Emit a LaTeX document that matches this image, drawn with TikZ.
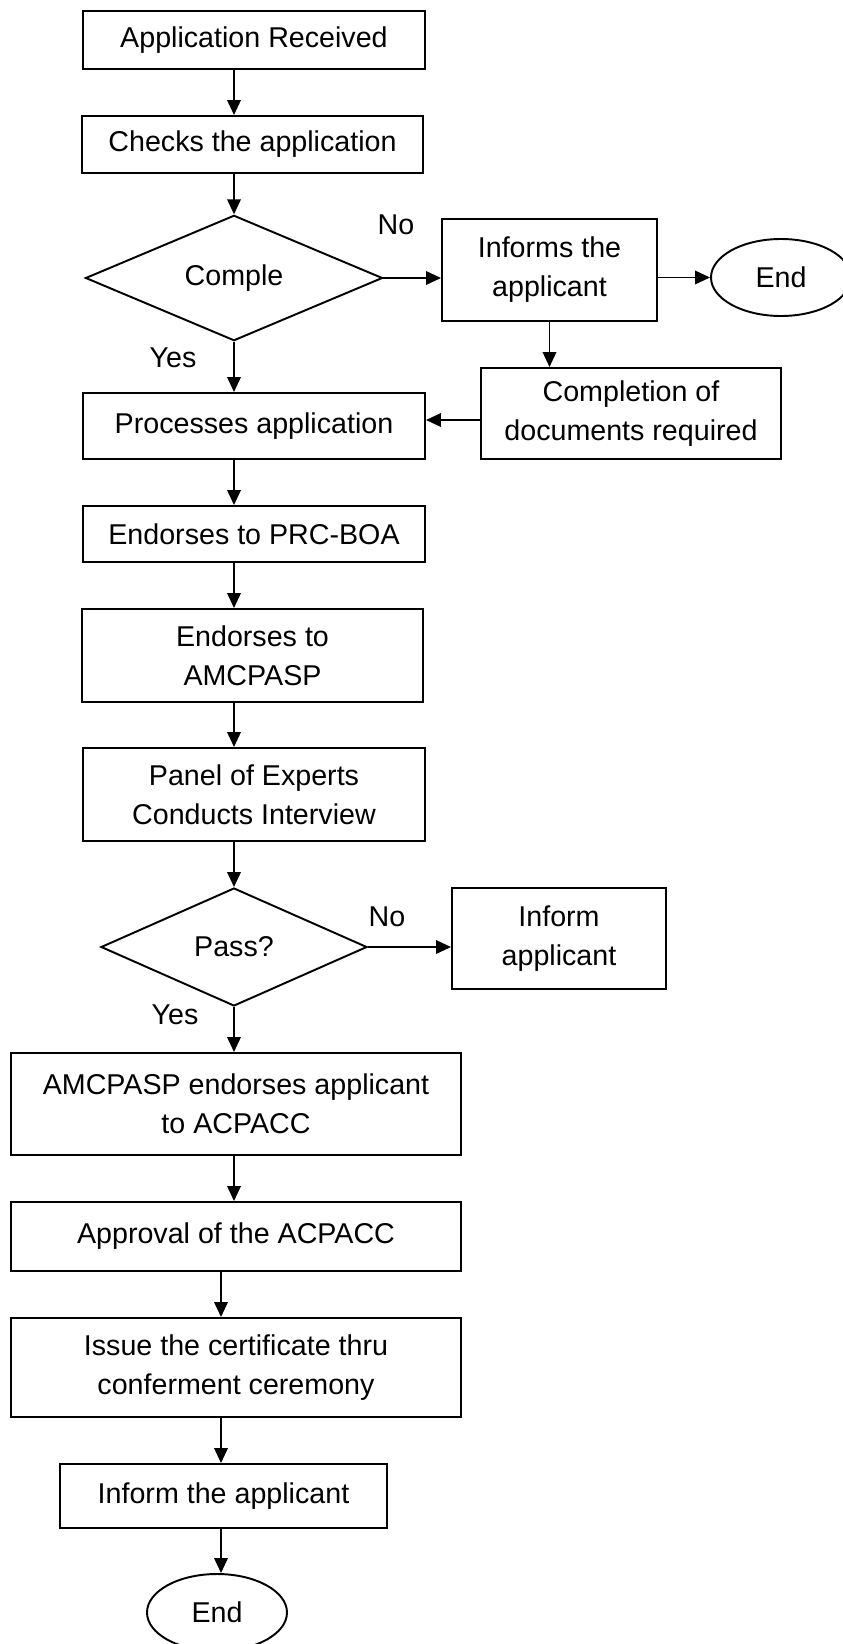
\documentclass[tikz,border=0pt]{standalone}
\usepackage{fontspec}
\setmainfont{Liberation Sans}
\usetikzlibrary{positioning,arrows.meta,calc,shapes.geometric}

\begin{document}
\begin{tikzpicture}[font=\fontsize{16.3}{22.2}\selectfont, every node/.style={align=center}]
\tikzset{
  box/.style={draw, line width=1.1pt, inner sep=0pt, minimum width=6.84cm, minimum height=1.16cm},
  decision/.style={draw, line width=1.1pt, diamond, inner sep=0pt, minimum width=5.94cm, minimum height=2.34cm},
  terminal/.style={draw, line width=1.1pt, ellipse, inner sep=0pt, minimum width=2.8cm, minimum height=1.54cm},
  arr/.style={-{Triangle[length=0.30cm, width=0.27cm]}, line width=1.1pt}
}
  \useasboundingbox (0,0) rectangle (16.86,-32.88);
  \coordinate (spine) at (4.68,0);
  \coordinate (lowspine) at (4.42,0);

  % main column
  \node[box] (recv) at (5.08,-0.80) {Application Received};
  \node[box, minimum width=6.82cm, minimum height=1.14cm] (check) at (5.05,-2.89) {Checks the application};
  \node[decision] (complete) at (4.68,-5.56) {Comple};
  \node[box, minimum height=1.32cm] (process) at (5.08,-8.52) {Processes application};
  \node[box, minimum height=1.12cm] (prcboa) at (5.08,-10.68) {Endorses to PRC-BOA};
  \node[box, minimum width=6.82cm, minimum height=1.86cm] (amc) at (5.05,-13.11) {Endorses to\\AMCPASP};
  \node[box, minimum height=1.86cm] (panel) at (5.08,-15.89) {Panel of Experts\\Conducts Interview};
  \node[decision, minimum width=5.32cm, minimum height=2.36cm] (pass) at (4.68,-18.94) {Pass?};
  \node[box, minimum width=9.0cm, minimum height=2.04cm] (acpacc) at (4.72,-22.08) {AMCPASP endorses applicant\\to ACPACC};
  \node[box, minimum width=9.0cm, minimum height=1.38cm] (approve) at (4.72,-24.73) {Approval of the ACPACC};
  \node[box, minimum width=9.0cm, minimum height=1.98cm] (issue) at (4.72,-27.35) {Issue the certificate thru\\conferment ceremony};
  \node[box, minimum width=6.54cm, minimum height=1.28cm] (tell) at (4.47,-29.92) {Inform the applicant};
  \node[terminal] (endB) at (4.34,-32.25) {End};

  % side branches
  \node[box, minimum width=4.30cm, minimum height=2.04cm] (informs) at (10.99,-5.40) {Informs the\\applicant};
  \node[terminal] (endA) at (15.62,-5.55) {End};
  \node[box, minimum width=6.0cm, minimum height=1.82cm] (docs) at (12.62,-8.27) {Completion of\\documents required};
  \node[box, minimum width=4.28cm, minimum height=2.02cm] (fail) at (11.18,-18.77) {Inform\\applicant};

  % branch labels
  \node (noA) at (7.92,-4.50) {No};
  \node (yesA) at (3.46,-7.16) {Yes};
  \node (noB) at (7.74,-18.34) {No};
  \node (yesB) at (3.50,-20.30) {Yes};

  \draw[arr] (recv.south -| spine) -- (check.north -| spine);
  \draw[arr] (check.south -| spine) -- (complete.north);
  \draw[arr] (complete.south) -- (process.north -| complete.south);
  \draw[arr] (process.south -| spine) -- (prcboa.north -| spine);
  \draw[arr] (prcboa.south -| spine) -- (amc.north -| spine);
  \draw[arr] (amc.south -| spine) -- (panel.north -| spine);
  \draw[arr] (panel.south -| spine) -- (pass.north);
  \draw[arr] (pass.south) -- (acpacc.north -| pass.south);
  \draw[arr] (acpacc.south -| spine) -- (approve.north -| spine);
  \draw[arr] (approve.south -| lowspine) -- (issue.north -| lowspine);
  \draw[arr] (issue.south -| lowspine) -- (tell.north -| lowspine);
  \draw[arr] (tell.south -| lowspine) -- (endB.north -| lowspine);

  \draw[arr] (complete.east) -- (complete.east -| informs.west);
  \draw[arr] (informs.east |- endA.west) -- (endA.west);
  \draw[arr] (informs.south) -- (informs.south |- docs.north);
  \draw[arr] ([yshift=-0.13cm]docs.west) -- ([yshift=-0.13cm]docs.west -| process.east);
  \draw[arr] (pass.east) -- (pass.east -| fail.west);
\end{tikzpicture}
\end{document}
